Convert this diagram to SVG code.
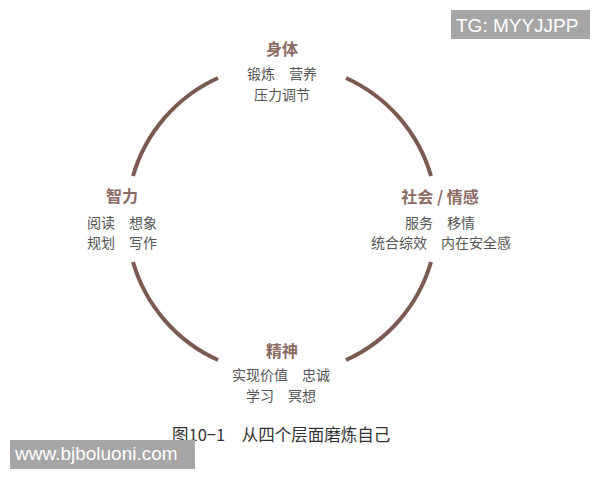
<svg xmlns="http://www.w3.org/2000/svg" width="600" height="480" viewBox="0 0 600 480">
<style>
.arc{fill:none;stroke:#7b5a52;stroke-width:4;stroke-linecap:butt}
.t{font-family:"Noto Sans CJK SC","Noto Sans",sans-serif;font-size:16px;font-weight:bold;fill:#8b6a62;text-anchor:middle;dominant-baseline:central}
.b{font-family:"Noto Sans CJK SC","Noto Sans",sans-serif;font-size:14px;fill:#555;text-anchor:middle;dominant-baseline:central}
.cap{font-family:"Noto Sans CJK SC","Noto Sans",sans-serif;font-size:16.5px;fill:#333;dominant-baseline:central}
.wm{fill:#a6a6a6}
.wt{font-family:"Liberation Sans",Arial,sans-serif;font-size:19px;fill:#fff}
</style>
<rect width="600" height="480" fill="#fff"/>
<g id="connectors">
<path class="arc" d="M133,176 A155,155 0 0 1 218,78"/>
<path class="arc" d="M346,78 A155,155 0 0 1 431,176"/>
<path class="arc" d="M431,262 A155,155 0 0 1 346,360"/>
<path class="arc" d="M218,360 A155,155 0 0 1 133,262"/>
</g>
<g id="body">
<text class="t" x="282" y="48">身体</text>
<text class="b" x="282" y="73">锻炼　营养</text>
<text class="b" x="282" y="94">压力调节</text>
</g>
<g id="social">
<text class="t" x="440" y="196">社会 / 情感</text>
<text class="b" x="440" y="222">服务　移情</text>
<text class="b" x="441" y="242">统合综效　内在安全感</text>
</g>
<g id="mind">
<text class="t" x="122" y="195">智力</text>
<text class="b" x="122" y="222">阅读　想象</text>
<text class="b" x="122" y="242">规划　写作</text>
</g>
<g id="spirit">
<text class="t" x="282" y="350">精神</text>
<text class="b" x="281" y="374">实现价值　忠诚</text>
<text class="b" x="281" y="395">学习　冥想</text>
</g>
<g id="caption">
<text class="cap" x="172" y="434">图10−1　从四个层面磨炼自己</text>
</g>
<g id="watermark-top">
<rect class="wm" x="451" y="10" width="139" height="29"/>
<text class="wt" x="456" y="32">TG: MYYJJPP</text>
</g>
<g id="watermark-bottom">
<rect class="wm" x="10" y="440" width="185" height="29"/>
<text class="wt" x="15" y="460">www.bjboluoni.com</text>
</g>
</svg>
